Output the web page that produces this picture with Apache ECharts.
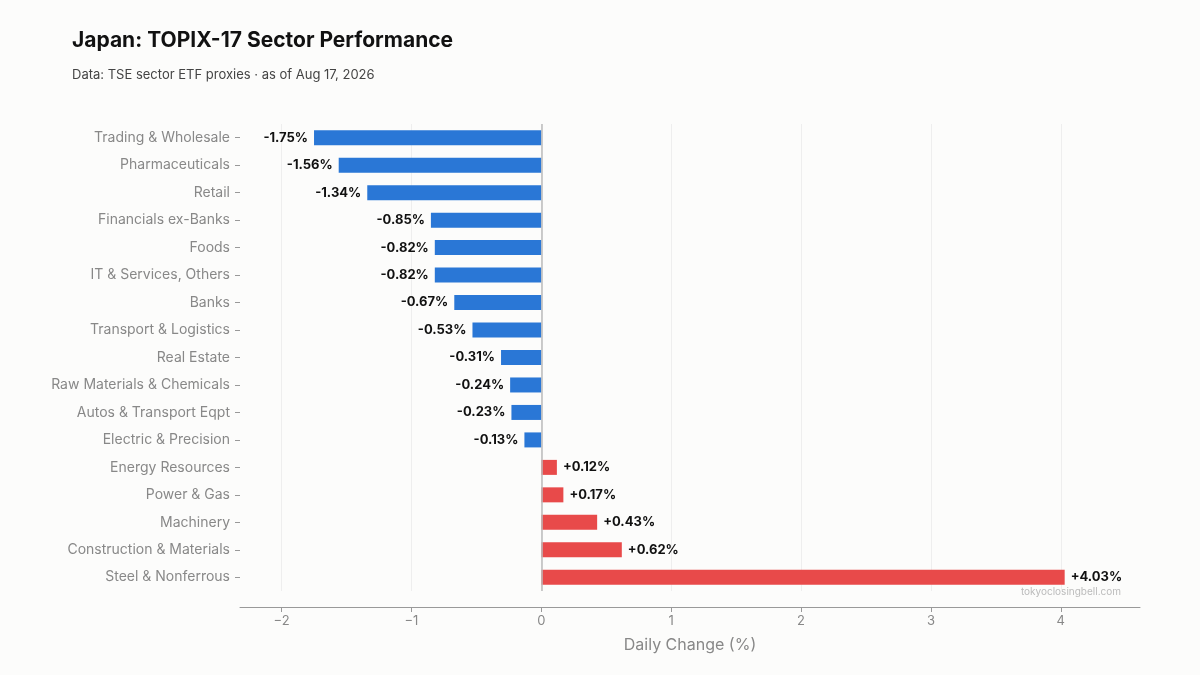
<!DOCTYPE html>
<html><head><meta charset="utf-8">
<script src="https://cdn.jsdelivr.net/npm/echarts@6/dist/echarts.min.js"></script>
<style>html,body{margin:0;background:#fcfcfb}#c{width:1200px;height:675px}</style>
</head><body><div id="c"></div>
<script>
const categories = ["Trading & Wholesale","Pharmaceuticals","Retail","Financials ex-Banks","Foods","IT & Services, Others","Banks","Transport & Logistics","Real Estate","Raw Materials & Chemicals","Autos & Transport Eqpt","Electric & Precision","Energy Resources","Power & Gas","Machinery","Construction & Materials","Steel & Nonferrous"];
const values = [-1.75,-1.56,-1.34,-0.85,-0.82,-0.82,-0.67,-0.53,-0.31,-0.24,-0.23,-0.13,0.12,0.17,0.43,0.62,4.03];
const xTicks = [-2,-1,0,1,2,3,4];
const chart = echarts.init(document.getElementById('c'));
const F = 'Inter, "Noto Sans", sans-serif';
chart.setOption({
  backgroundColor:'#fcfcfb',
  animation:false,
  title:[
    {text:'Japan: TOPIX-17 Sector Performance',left:67,top:25,textStyle:{fontFamily:F,fontSize:21,fontWeight:'bold',color:'#111'}},
    {text:'Data: TSE sector ETF proxies · as of Aug 17, 2026',left:67,top:64,textStyle:{fontFamily:F,fontSize:13,fontWeight:'normal',color:'#444'}}
  ],
  graphic:[{type:'text',right:79,top:587,style:{text:'tokyoclosingbell.com',fill:'#bbb',font:'10px '+F}}],
  grid:{left:240,right:60,top:124,bottom:84},
  xAxis:{type:'value',min:-2.32,max:4.61,offset:16,
    name:'Daily Change (%)',nameLocation:'middle',nameGap:30,nameTextStyle:{fontFamily:F,fontSize:16,color:'#888'},
    axisLine:{show:true,onZero:false,lineStyle:{color:'#999'}},
    axisTick:{show:true,customValues:xTicks,length:5,lineStyle:{color:'#999'}},
    axisLabel:{customValues:xTicks,fontFamily:F,fontSize:13,color:'#888',formatter:v=>String(v).replace('-','\u2212')},
    splitLine:{show:true,lineStyle:{color:'#eeeeee'}}},
  yAxis:{type:'category',inverse:true,data:categories,
    axisLine:{show:false,onZero:false},
    axisTick:{show:true,alignWithLabel:true,length:5,lineStyle:{color:'#999'}},
    axisLabel:{fontFamily:F,fontSize:14,color:'#888',margin:10},
    splitLine:{show:false}},
  series:[{type:'bar',barWidth:15,
    data:values.map(v=>({value:v,itemStyle:{color:v<0?'#2a77d6':'#e84a4a'},
      label:{position:v<0?'left':'right'}})),
    label:{show:true,fontFamily:F,fontSize:13,fontWeight:'bold',color:'#111',distance:6,
      formatter:p=>(p.value>0?'+':'')+p.value.toFixed(2)+'%'},
    markLine:{silent:true,symbol:'none',label:{show:false},lineStyle:{color:'#bbb',type:'solid',width:1.5},data:[{xAxis:0}]}
  }]
});
</script></body></html>
